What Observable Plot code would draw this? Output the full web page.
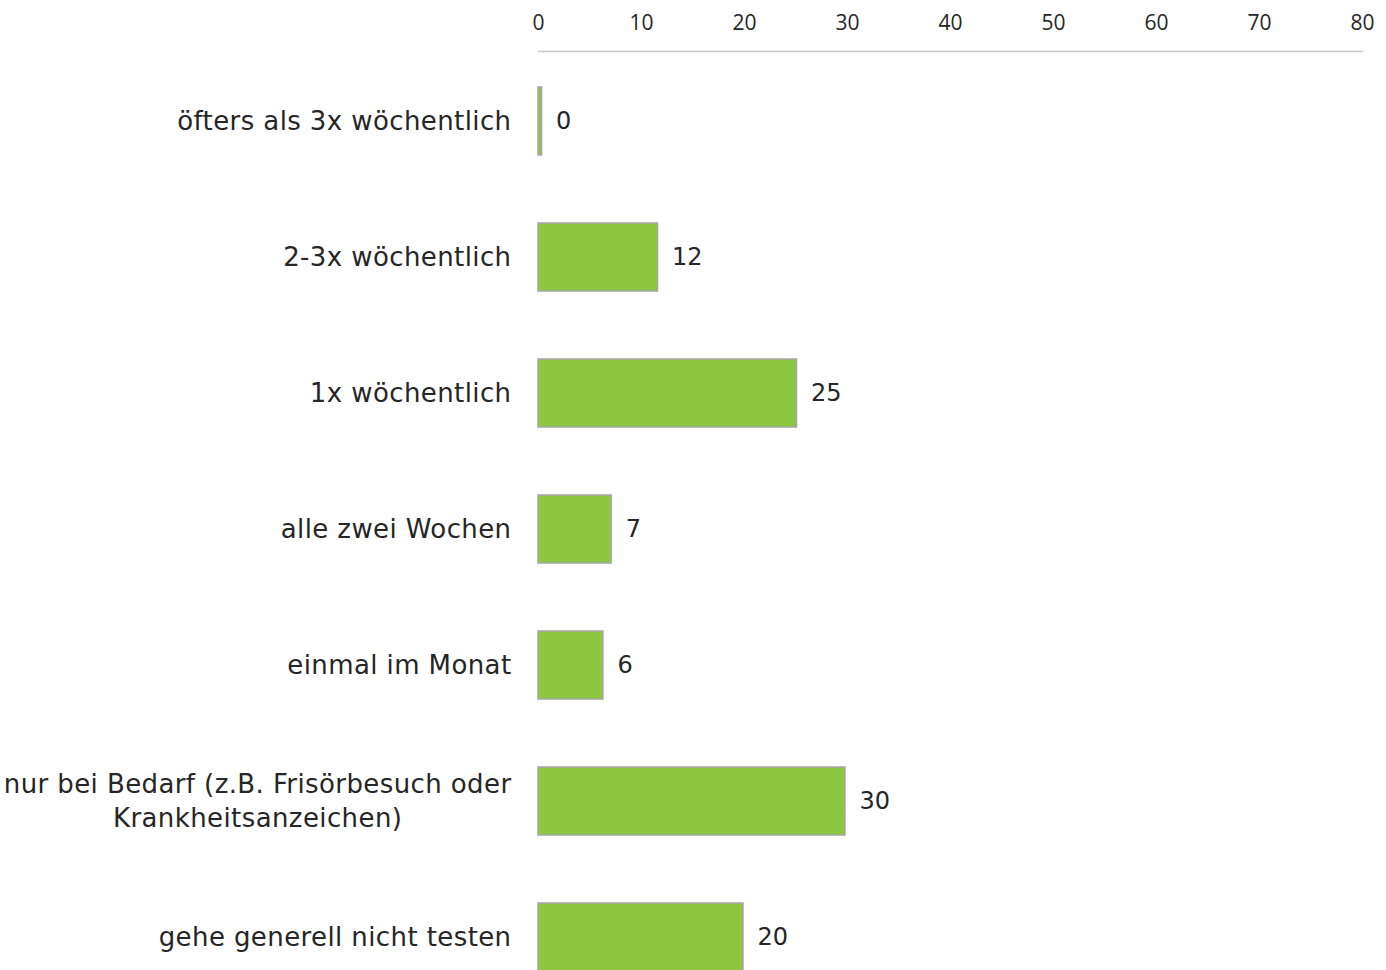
<!DOCTYPE html>
<html>
<head>
<meta charset="utf-8">
<script src="https://cdn.jsdelivr.net/npm/d3@7"></script>
<script src="https://cdn.jsdelivr.net/npm/@observablehq/plot@0.6"></script>
<style>
  html, body { margin: 0; padding: 0; background: #fff; }
  #wrap { width: 1386px; height: 970px; overflow: hidden; }
</style>
</head>
<body>
<div id="wrap"></div>
<script>
const categories = [
  "öfters als 3x wöchentlich",
  "2-3x wöchentlich",
  "1x wöchentlich",
  "alle zwei Wochen",
  "einmal im Monat",
  "nur bei Bedarf (z.B. Frisörbesuch oder\nKrankheitsanzeichen)",
  "gehe generell nicht testen"
];
const values = [0.35, 11.6, 25.1, 7.1, 6.3, 29.8, 19.9];
const xTicks = [0, 10, 20, 30, 40, 50, 60, 70, 80];

const data = categories.map((c, i) => ({category: c, value: values[i]}));

const chart = Plot.plot({
  width: 1386,
  height: 1006,
  marginTop: 51,
  marginBottom: 0,
  marginLeft: 538,
  marginRight: 24,
  style: {background: "#fff", overflow: "visible"},
  x: {domain: [0, 80], ticks: xTicks},
  y: {domain: categories, paddingInner: 0.5, paddingOuter: 0.25},
  marks: [
    Plot.frame({anchor: "top", stroke: "#c8c8c8", strokeWidth: 1.5}),
    Plot.axisX({
      anchor: "top", ticks: xTicks, tickSize: 0, tickPadding: 22,
      fontSize: 21, fontFamily: "Open Sans", fill: "#262626", label: null
    }),
    Plot.axisY({
      anchor: "left", tickSize: 0, tickPadding: 27, dy: -2,
      fontSize: 26, fontFamily: "DejaVu Sans", fill: "#262626", label: null,
      lineHeight: 1.3
    }),
    Plot.barX(data, {
      y: "category", x: "value",
      fill: "#8dc63f", stroke: "#a5a5a5", strokeWidth: 1.5
    }),
    Plot.text(data, {
      y: "category", x: "value",
      text: d => d3.format(".0f")(d.value),
      textAnchor: "start", dx: 14,
      fontSize: 24, fontFamily: "DejaVu Sans", fill: "#262626"
    })
  ]
});

document.getElementById("wrap").appendChild(chart);

// slight letter spacing for the category labels, and center the lines of the multi-line label
chart.querySelectorAll("g[aria-label='y-axis tick label'] text").forEach(t => {
  t.setAttribute("letter-spacing", "0.4");
  const spans = t.querySelectorAll("tspan");
  if (spans.length > 1) {
    const w = Math.max(...Array.from(spans).map(s => s.getComputedTextLength()));
    spans.forEach(s => {
      s.setAttribute("text-anchor", "middle");
      s.setAttribute("x", -w / 2);
    });
  }
});
</script>
</body>
</html>
